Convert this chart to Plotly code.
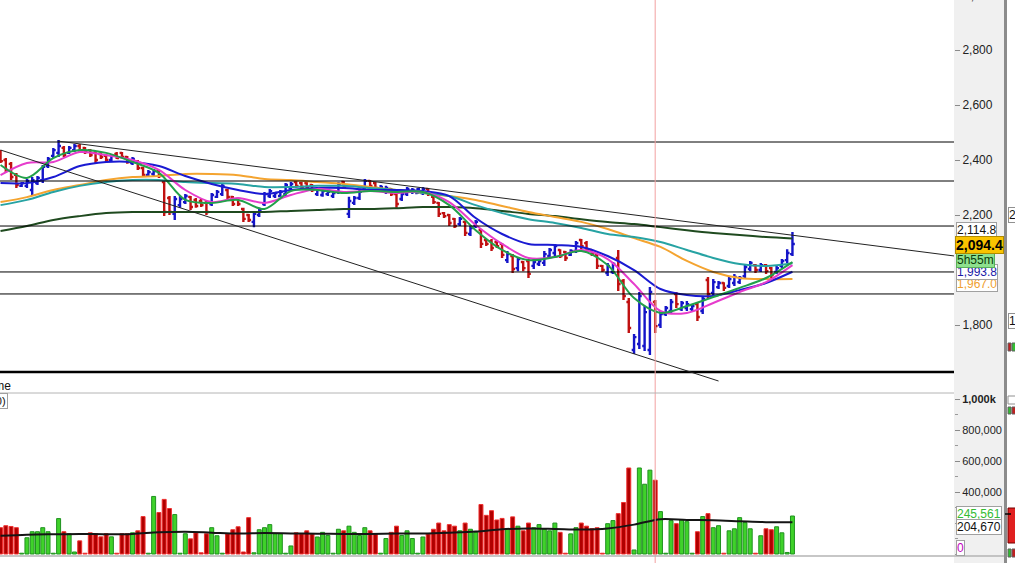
import plotly.graph_objects as go

W, H = 1015, 563

# ---------------- data ----------------
bar_index = list(range(151))
opens = [2429, 2400, 2386, 2346, 2306, 2306, 2291, 2316, 2327, 2378,
         2415, 2426, 2444, 2426, 2436, 2451, 2444, 2436, 2426, 2422,
         2415, 2400, 2422, 2426, 2411, 2389, 2396, 2371, 2346, 2349,
         2360, 2320, 2262, 2204, 2236, 2247, 2266, 2255, 2251, 2244,
         2240, 2266, 2276, 2291, 2266, 2258, 2222, 2200, 2175, 2200,
         2240, 2269, 2269, 2269, 2276, 2298, 2320, 2316, 2316, 2309,
         2276, 2273, 2276, 2269, 2284, 2320, 2204, 2244, 2262, 2295,
         2324, 2316, 2291, 2284, 2295, 2276, 2258, 2276, 2284, 2280,
         2280, 2295, 2266, 2244, 2207, 2200, 2186, 2167, 2175, 2131,
         2160, 2145, 2109, 2105, 2102, 2095, 2036, 2051, 2007, 2029,
         2033, 2015, 2022, 2026, 2051, 2062, 2073, 2066, 2055, 2069,
         2109, 2098, 2073, 2055, 2015, 1989, 1993, 2044, 1960, 1884,
         1709, 1731, 1724, 1709, 1884, 1800, 1840, 1851, 1913, 1858,
         1862, 1858, 1876, 1851, 1964, 1917, 1938, 1953, 1942, 1953,
         1956, 1978, 2004, 2018, 2000, 2018, 2007, 1993, 2015, 2036, 2058]
highs = [2436, 2407, 2393, 2353, 2320, 2331, 2338, 2342, 2382, 2411,
         2444, 2473, 2451, 2451, 2458, 2458, 2447, 2440, 2433, 2429,
         2422, 2422, 2429, 2429, 2415, 2411, 2400, 2375, 2364, 2367,
         2364, 2327, 2269, 2269, 2269, 2276, 2269, 2262, 2258, 2251,
         2280, 2291, 2316, 2295, 2269, 2262, 2226, 2204, 2211, 2226,
         2284, 2295, 2284, 2291, 2316, 2320, 2324, 2320, 2320, 2313,
         2302, 2295, 2291, 2287, 2320, 2324, 2266, 2269, 2291, 2331,
         2327, 2320, 2309, 2306, 2298, 2280, 2284, 2302, 2298, 2298,
         2302, 2298, 2269, 2247, 2211, 2204, 2189, 2193, 2178, 2160,
         2182, 2149, 2113, 2113, 2109, 2098, 2069, 2058, 2047, 2033,
         2040, 2040, 2040, 2069, 2080, 2095, 2076, 2069, 2076, 2106,
         2113, 2106, 2076, 2058, 2018, 2026, 2029, 2073, 1967, 1898,
         1767, 1920, 1869, 1938, 1891, 1851, 1869, 1895, 1920, 1887,
         1887, 1876, 1884, 1906, 1975, 1967, 1960, 1956, 1975, 1986,
         1978, 2022, 2033, 2022, 2026, 2022, 2011, 2015, 2040, 2076, 2138]
lows = [2389, 2356, 2327, 2298, 2302, 2298, 2273, 2309, 2316, 2371,
        2407, 2411, 2411, 2422, 2429, 2429, 2422, 2411, 2389, 2404,
        2389, 2396, 2404, 2407, 2386, 2382, 2364, 2338, 2338, 2342,
        2335, 2196, 2200, 2182, 2226, 2240, 2218, 2226, 2229, 2200,
        2233, 2262, 2269, 2258, 2233, 2233, 2175, 2175, 2156, 2193,
        2233, 2262, 2262, 2266, 2266, 2291, 2298, 2295, 2295, 2284,
        2269, 2266, 2269, 2262, 2276, 2295, 2189, 2236, 2255, 2287,
        2298, 2291, 2284, 2276, 2269, 2226, 2251, 2269, 2276, 2276,
        2273, 2269, 2240, 2193, 2189, 2160, 2153, 2160, 2124, 2124,
        2153, 2080, 2087, 2069, 2080, 2044, 2026, 1989, 1996, 1996,
        1971, 2004, 2015, 2015, 2044, 2051, 2044, 2033, 2051, 2062,
        2076, 2062, 2051, 2004, 1993, 1978, 1986, 1924, 1891, 1771,
        1695, 1713, 1706, 1691, 1771, 1789, 1833, 1840, 1862, 1851,
        1851, 1851, 1815, 1840, 1898, 1906, 1931, 1924, 1935, 1942,
        1949, 1971, 1996, 1989, 1993, 1986, 1967, 1986, 2007, 2026, 2051]
closes = [2396, 2364, 2338, 2309, 2316, 2324, 2327, 2335, 2375, 2404,
          2436, 2451, 2418, 2444, 2451, 2436, 2429, 2418, 2400, 2411,
          2400, 2415, 2407, 2411, 2393, 2404, 2371, 2346, 2356, 2360,
          2342, 2211, 2211, 2258, 2258, 2269, 2229, 2233, 2236, 2211,
          2273, 2284, 2306, 2266, 2240, 2240, 2186, 2182, 2204, 2218,
          2276, 2287, 2280, 2284, 2309, 2313, 2306, 2302, 2298, 2291,
          2295, 2287, 2284, 2280, 2313, 2302, 2251, 2262, 2284, 2324,
          2306, 2298, 2302, 2298, 2276, 2240, 2276, 2295, 2291, 2295,
          2295, 2276, 2247, 2204, 2196, 2171, 2160, 2186, 2135, 2153,
          2175, 2095, 2095, 2080, 2087, 2055, 2058, 2004, 2040, 2007,
          1986, 2029, 2033, 2058, 2073, 2087, 2051, 2044, 2069, 2098,
          2087, 2073, 2058, 2015, 2000, 2015, 2022, 1949, 1905, 1789,
          1756, 1905, 1847, 1920, 1796, 1840, 1862, 1884, 1876, 1880,
          1876, 1869, 1829, 1895, 1913, 1956, 1953, 1935, 1967, 1975,
          1971, 2011, 2026, 2000, 2018, 1996, 1982, 2007, 2033, 2062, 2094.4]
volumes = [170000, 183000, 178000, 170000, 5000, 105000, 144000, 144000, 170000, 144000,
           5000, 229000, 144000, 131000, 13000, 85000, 5000, 137000, 131000, 111000,
           131000, 111000, 5000, 131000, 131000, 137000, 150000, 242000, 5000, 372000,
           268000, 353000, 294000, 255000, 5000, 131000, 98000, 137000, 8000, 131000,
           170000, 118000, 5000, 131000, 157000, 176000, 13000, 235000, 8000, 157000,
           170000, 190000, 131000, 131000, 5000, 52000, 137000, 131000, 150000, 130000,
           110000, 140000, 120000, 5000, 160000, 150000, 180000, 140000, 120000, 170000,
           150000, 130000, 5000, 100000, 140000, 180000, 120000, 150000, 100000, 5000,
           110000, 130000, 160000, 200000, 150000, 190000, 180000, 150000, 200000, 160000,
           140000, 320000, 250000, 280000, 220000, 230000, 160000, 240000, 180000, 150000,
           200000, 170000, 190000, 160000, 150000, 200000, 140000, 5000, 130000, 170000,
           200000, 180000, 164000, 170000, 5000, 196000, 216000, 261000, 333000, 556000,
           26000, 556000, 451000, 542000, 477000, 274000, 5000, 216000, 196000, 222000,
           209000, 5000, 144000, 242000, 261000, 170000, 183000, 5000, 150000, 163000,
           235000, 203000, 163000, 5000, 118000, 163000, 157000, 176000, 137000, 10000, 245561]

ma_index = list(range(0, 151, 5))
ma_green = [2382, 2335, 2407, 2436, 2426, 2393, 2353, 2255, 2244, 2255,
            2222, 2287, 2291, 2280, 2287, 2284, 2284, 2236, 2145, 2073,
            2036, 2047, 2069, 2018, 1898, 1844, 1869, 1902, 1935, 1971, 2029]
ma_magenta = [2345, 2389, 2393, 2429, 2418, 2400, 2364, 2291, 2247, 2262,
              2244, 2273, 2295, 2284, 2287, 2280, 2284, 2247, 2164, 2095,
              2044, 2047, 2073, 2040, 1949, 1851, 1844, 1880, 1920, 1956, 2018]
ma_blue = [2316, 2316, 2338, 2378, 2393, 2393, 2378, 2342, 2313, 2291,
           2276, 2291, 2298, 2298, 2291, 2291, 2287, 2269, 2189, 2131,
           2095, 2091, 2084, 2051, 2000, 1931, 1909, 1906, 1927, 1953, 1993.8]
ma_teal = [2236, 2255, 2284, 2306, 2320, 2327, 2327, 2320, 2316, 2313,
           2302, 2302, 2306, 2306, 2298, 2291, 2280, 2269, 2236, 2207,
           2185, 2171, 2153, 2131, 2120, 2102, 2073, 2044, 2022, 2015, 2025]
ma_orange = [2247, 2265, 2291, 2309, 2327, 2338, 2342, 2349, 2349, 2345,
             2331, 2327, 2320, 2313, 2302, 2291, 2280, 2269, 2255, 2233,
             2211, 2193, 2175, 2149, 2116, 2084, 2033, 1993, 1971, 1967, 1967.0]
ma_darkgreen = [2142, 2160, 2182, 2196, 2207, 2211, 2211, 2211, 2211, 2211,
                2211, 2215, 2218, 2222, 2222, 2225, 2229, 2229, 2225, 2215,
                2204, 2196, 2185, 2175, 2167, 2156, 2145, 2135, 2127, 2120, 2114.8]
vol_ma = [118000, 125000, 128000, 130000, 128000, 130000, 140000, 144000, 138000, 132000,
          135000, 133000, 131000, 130000, 130000, 132000, 133000, 138000, 145000, 160000,
          165000, 162000, 158000, 165000, 190000, 225000, 220000, 218000, 212000, 206000, 204670]

levels = [2465.5, 2323.7, 2160.0, 1993.0, 1913.0]
support_level = 1629.0
upper_trend_x = [10.8, 180.7]
upper_trend_y = [2469.0, 2051.0]
lower_trend_x = [0, 136]
lower_trend_y = [2436.4, 1596.5]
marker_bar = 124

price_ticks = [1800, 2200, 2400, 2600, 2800]
price_tick_text = ["1,800", "2,200", "2,400", "2,600", "2,800"]
vol_ticks = [400000, 600000, 800000, 1000000]
vol_tick_text = ["400,000", "600,000", "800,000", "<b>1,000k</b>"]

last_price = "2,094.4"
label_ma_long = "2,114.8"
label_ma_blue = "1,993.8"
label_ma_orange = "1,967.0"
countdown = "5h55m"
label_vol = "245,561"
label_vol_ma = "204,670"

# ---------------- figure ----------------
FONT = "Liberation Sans, Arial, sans-serif"


def px(p):
    return p / W


def py(p):
    return 1 - p / H


fig = go.Figure()

for vals, col in [(ma_darkgreen, "#1f4a1f"), (ma_orange, "#f4a430"), (ma_teal, "#27a3a3"),
                  (ma_blue, "#1a1ad2"), (ma_magenta, "#e63ccc"), (ma_green, "#22a04a")]:
    fig.add_trace(go.Scatter(x=ma_index, y=vals, mode="lines", xaxis="x", yaxis="y",
                             line=dict(color=col, width=2, shape="spline", smoothing=0.9),
                             hoverinfo="skip"))

fig.add_trace(go.Ohlc(x=bar_index, open=opens, high=highs, low=lows, close=closes,
                      xaxis="x", yaxis="y", tickwidth=0.45,
                      increasing=dict(line=dict(color="#1414c8", width=2.4)),
                      decreasing=dict(line=dict(color="#c01010", width=2.4))))

fills = ["#3fd22a" if c >= o else "#b00000" for o, c in zip(opens, closes)]
borders = ["#1f921f" if c >= o else "#f03030" for o, c in zip(opens, closes)]
fig.add_trace(go.Bar(x=bar_index, y=volumes, xaxis="x", yaxis="y2", width=0.75,
                     marker=dict(color=fills, line=dict(color=borders, width=1))))
fig.add_trace(go.Scatter(x=ma_index, y=vol_ma, mode="lines", xaxis="x", yaxis="y2",
                         line=dict(color="#151515", width=2, shape="spline", smoothing=0.9)))

shapes = []
shapes.append(dict(type="rect", xref="paper", yref="paper", x0=px(954), x1=px(1004), y0=0, y1=1,
                   fillcolor="#f0f0f0", line=dict(width=0), layer="below"))
shapes.append(dict(type="line", xref="paper", yref="paper", x0=px(1005.5), x1=px(1005.5), y0=0, y1=1,
                   line=dict(color="#8c8c8c", width=3)))
for lv in levels:
    shapes.append(dict(type="line", xref="paper", yref="y", x0=0, x1=px(954), y0=lv, y1=lv,
                       line=dict(color="#000000", width=1)))
shapes.append(dict(type="line", xref="paper", yref="y", x0=0, x1=px(954), y0=support_level, y1=support_level,
                   line=dict(color="#000000", width=2.5)))
shapes.append(dict(type="line", xref="x", yref="y", x0=upper_trend_x[0], x1=upper_trend_x[1],
                   y0=upper_trend_y[0], y1=upper_trend_y[1], line=dict(color="#222", width=1)))
shapes.append(dict(type="line", xref="x", yref="y", x0=lower_trend_x[0], x1=lower_trend_x[1],
                   y0=lower_trend_y[0], y1=lower_trend_y[1], line=dict(color="#222", width=1)))
shapes.append(dict(type="line", xref="x", yref="paper", x0=marker_bar, x1=marker_bar, y0=0, y1=1,
                   line=dict(color="#f2a0a0", width=1)))
shapes.append(dict(type="line", xref="paper", yref="paper", x0=0, x1=px(954), y0=py(393), y1=py(393),
                   line=dict(color="#b4b4b4", width=1)))
shapes.append(dict(type="line", xref="paper", yref="paper", x0=0, x1=px(1004), y0=py(556), y1=py(556),
                   line=dict(color="#b4b4b4", width=1.5)))


def rect(x0, x1, y0, y1, fill, line="#606060"):
    shapes.append(dict(type="rect", xref="paper", yref="paper", x0=px(x0), x1=px(x1), y0=py(y1), y1=py(y0),
                       fillcolor=fill, line=dict(color=line, width=1)))


rect(1008, 1011, 343, 351, "#c02020")
rect(1012, 1016, 343, 351, "#30c030")
rect(1008, 1016, 396, 404, "white", "#909090")
rect(1008, 1011, 407, 414, "#30c030")
rect(1012, 1016, 407, 414, "#c02020")
rect(1008, 1016, 508, 543, "#e02020", "#700000")
rect(1008, 1011, 549, 557, "#30c030")
rect(1012, 1016, 549, 557, "#c02020")
shapes.append(dict(type="line", xref="paper", yref="paper", x0=px(1005), x1=px(1011), y0=py(514), y1=py(514),
                   line=dict(color="#000", width=1.5)))

annotations = []


def box(text, x, ycen, color="#111", bg="white", border="#a0a0a0", size=12, bold=False):
    annotations.append(dict(xref="paper", yref="paper", x=px(x), y=py(ycen), xanchor="left", yanchor="middle",
                            text=("<b>%s</b>" % text) if bold else text, showarrow=False,
                            font=dict(family=FONT, size=size, color=color),
                            bgcolor=bg, bordercolor=border, borderwidth=1, borderpad=0))


box(label_ma_long, 956, 230, color="#111")
box(label_ma_orange, 956, 284, color="#f0a030")
box(label_ma_blue, 956, 272, color="#1a1aa8")
box(countdown, 956, 260, color="#0a3a0a", bg="#8ee08e", border="#58b058")
box(last_price, 955, 245.5, color="#000", bg="#f9c300", border="#b08a00", size=14, bold=True)
box(label_vol, 956, 514, color="#33bb33")
box(label_vol_ma, 956, 527, color="#111")
box("0", 956, 548, color="#c000c0")
box("2", 1008, 215, color="#111", border="#909090")
box("1", 1008, 321, color="#111", border="#909090")

annotations.append(dict(xref="paper", yref="paper", x=px(13), y=py(386), xanchor="right", yanchor="middle",
                        text="Volume", showarrow=False, font=dict(family=FONT, size=12, color="#111")))
annotations.append(dict(xref="paper", yref="paper", x=px(8), y=py(401), xanchor="right", yanchor="middle",
                        text="(20)", showarrow=False, font=dict(family=FONT, size=11, color="#111"),
                        bgcolor="white", bordercolor="#a0a0a0", borderwidth=1, borderpad=1))
annotations.append(dict(xref="paper", yref="paper", x=px(962), y=py(-4), xanchor="left", yanchor="middle",
                        text="3,000", showarrow=False, font=dict(family=FONT, size=12, color="#222")))

price_font = dict(family=FONT, size=12, color="#222")
vol_font = dict(family=FONT, size=11, color="#222")
fig.update_layout(
    width=W, height=H, margin=dict(l=0, r=0, t=0, b=0, pad=0, autoexpand=False),
    paper_bgcolor="white", plot_bgcolor="white", showlegend=False,
    xaxis=dict(domain=[0, px(954)], range=[-0.1, 180.6], visible=False,
               rangeslider=dict(visible=False), anchor="y2"),
    yaxis=dict(domain=[py(393), 1], range=[1552.9, 2981.8], side="right", anchor="x",
               showgrid=False, zeroline=False, showline=False, automargin=False,
               tickvals=price_ticks, ticktext=price_tick_text, ticks="outside", ticklen=5,
               tickcolor="#8a8a8a", tickfont=price_font),
    yaxis2=dict(domain=[py(556), py(393)], range=[-12900, 1040700], side="right", anchor="x",
                showgrid=False, zeroline=False, showline=False, automargin=False,
                tickvals=vol_ticks, ticktext=vol_tick_text, ticks="outside", ticklen=5,
                tickcolor="#8a8a8a", tickfont=vol_font,
                minor=dict(ticks="outside", ticklen=3, tickcolor="#9a9a9a", dtick=100000, tick0=0)),
    shapes=shapes, annotations=annotations,
)

fig.write_html("out.html", config={"displayModeBar": False},
               post_script="document.body.style.margin='0';document.body.style.overflow='hidden';")
